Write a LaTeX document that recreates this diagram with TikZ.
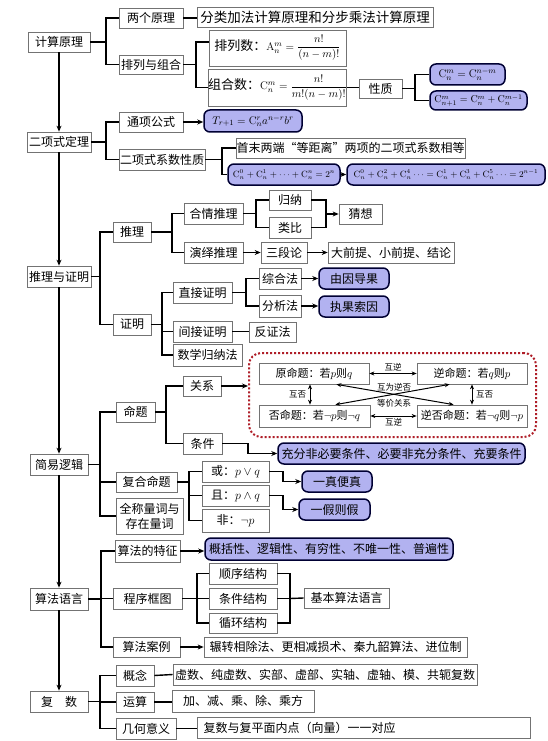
\documentclass[tikz,border=0pt]{standalone}
\usepackage{amsmath}
\usepackage{fontspec}
\newfontfamily\cjk{Noto Sans CJK SC}
\usetikzlibrary{arrows.meta,calc}
\definecolor{bluefill}{RGB}{178,178,240}
\definecolor{redd}{RGB}{175,30,40}
\definecolor{boxline}{RGB}{115,115,115}
\newcommand{\mybox}[7][box]{\node[#1, minimum width={(#5-#3)*1pt}, minimum height={(#6-#4)*1pt}] (#2) at ({(#3+#5)/2},{(#4+#6)/2}) {#7};}
\tikzset{
  box/.style={draw=boxline, line width=0.7pt, fill=white, inner sep=0pt, font=\cjk\fontsize{12}{14}\selectfont, align=center},
  bluebox/.style={box, draw=black!80!blue, line width=1.5pt, fill=bluefill, rounded corners=6pt},
  redbox/.style={draw=redd, line width=2pt, dotted, rounded corners=12pt, inner sep=0pt},
  ln/.style={line width=1.4pt, black},
  arr/.style={ln, -{Stealth[length=6pt,width=5pt]}},
  darr/.style={line width=1pt, {Stealth[length=5pt,width=4pt]}-{Stealth[length=5pt,width=4pt]}},
  lab/.style={font=\cjk\fontsize{8.5}{9}\selectfont, inner sep=0.5pt},
  prop/.style={box, font=\cjk\fontsize{11}{13}\selectfont}
}
\begin{document}
\begin{tikzpicture}[x=1pt,y=-1pt]
\useasboundingbox[fill=white] (0,0) rectangle (548,741);
% main column
\mybox{jsyl}{28}{32}{90}{52}{计算原理}
\mybox{exs}{27}{132}{91}{152}{二项式定理}
\mybox{tlzm}{27}{266}{91}{287}{推理与证明}
\mybox{jylj}{30}{454}{88}{475}{简易逻辑}
\mybox{sfyy}{30}{588}{88}{610}{算法语言}
\mybox{fs}{30}{691}{88}{712}{复\hspace{12pt}数}
\draw[arr] (jsyl.south) -- (exs.north);
\draw[arr] (exs.south) -- (tlzm.north);
\draw[arr] (tlzm.south) -- (jylj.north);
\draw[arr] (jylj.south) -- (sfyy.north);
\draw[arr] (sfyy.south) -- (fs.north);
% section 1
\mybox{lgyl}{119}{8}{183}{28}{两个原理}
\mybox[box,font=\cjk\fontsize{13.5}{16}\selectfont]{flja}{197}{7}{433}{27}{分类加法计算原理和分步乘法计算原理}
\mybox{plzh}{119}{55}{183}{74}{排列与组合}
\mybox[box,font=\cjk\fontsize{13}{15}\selectfont]{pls}{209}{30}{346}{66}{排列数：{\fontsize{11}{13}\selectfont$\mathrm{A}_n^m=\dfrac{n!}{(n-m)!}$}}
\mybox[box,font=\cjk\fontsize{13}{15}\selectfont]{zhs}{209}{69}{346}{106}{组合数：{\fontsize{11}{13}\selectfont$\mathrm{C}_n^m=\dfrac{n!}{m!(n-m)!}$}}
\mybox{xz}{359}{79}{402}{98}{性质}
\mybox[bluebox,font=\fontsize{11}{13}\selectfont]{c1}{430}{64}{505}{85}{$\mathrm{C}_n^m=\mathrm{C}_n^{n-m}$}
\mybox[bluebox,font=\fontsize{10}{12}\selectfont]{c2}{430}{91}{527}{110}{$\mathrm{C}_{n+1}^m=\mathrm{C}_n^m+\mathrm{C}_n^{m-1}$}
\coordinate (s1) at (106,42);
\draw[ln] (jsyl.east) -- (s1);
\draw[ln] (lgyl.west) -| (s1);
\draw[ln] (plzh.west) -| (s1);
\draw[ln] (lgyl.east) -- (lgyl.east -| flja.west);
\coordinate (s2) at (196,64.5);
\draw[ln] (plzh.east) -- (s2);
\draw[ln] ([yshift=6pt]pls.west) -| (s2);
\draw[ln] (zhs.west) -| (s2);
\draw[ln] (zhs.east) -- (zhs.east -| xz.west);
\coordinate (s3) at (415,88.5);
\draw[ln] (xz.east) -- (s3);
\draw[ln] (c1.west) -| (s3);
\draw[ln] (c2.west) -| (s3);
% section 2
\mybox{txgs}{119}{112}{183}{132}{通项公式}
\mybox{xsxz}{119}{149}{205}{170}{二项式系数性质}
\mybox[bluebox,font=\fontsize{11}{13}\selectfont]{tf}{204}{110}{302}{132}{$T_{r+1}=\mathrm{C}_n^r a^{n-r} b^r$}
\mybox{smld}{236}{138}{465}{158}{首末两端“等距离”两项的二项式系数相等}
\mybox[bluebox,font=\fontsize{9}{11}\selectfont]{cs1}{228}{164}{340}{185}{$\mathrm{C}_n^0+\mathrm{C}_n^1+\cdots+\mathrm{C}_n^n=2^n$}
\mybox[bluebox,font=\fontsize{9}{11}\selectfont]{cs2}{347}{164}{545}{185}{$\mathrm{C}_n^0+\mathrm{C}_n^2+\mathrm{C}_n^4\cdots=\mathrm{C}_n^1+\mathrm{C}_n^3+\mathrm{C}_n^5\cdots=2^{n-1}$}
\coordinate (s4) at (106,142);
\draw[ln] (exs.east) -- (s4);
\draw[ln] (txgs.west) -| (s4);
\draw[ln] (xsxz.west) -| (s4);
\draw[arr] (txgs.east) -- (txgs.east -| tf.west);
\coordinate (s5) at (222,159.5);
\draw[ln] (xsxz.east) -- (s5);
\draw[ln] (smld.west) -| (s5);
\draw[ln] (cs1.west) -| (s5);
\draw[arr] (cs1.east) -- (cs2.west);
% section 3
\mybox{tl}{113}{222}{151}{242}{推理}
\mybox{zm}{113}{314}{151}{335}{证明}
\mybox{hqtl}{184}{203}{243}{224}{合情推理}
\mybox{yytl}{184}{242}{243}{263}{演绎推理}
\mybox{gn}{269}{190}{311}{210}{归纳}
\mybox{lb}{269}{217}{311}{238}{类比}
\mybox{cx}{339}{204}{382}{224}{猜想}
\mybox{sdl}{261}{242}{307}{263}{三段论}
\mybox{dqt}{328}{242}{454}{263}{大前提、小前提、结论}
\mybox{zjzm}{173}{282}{232}{303}{直接证明}
\mybox{jjzm}{173}{321}{232}{342}{间接证明}
\mybox{sxgn}{173}{344}{242}{366}{数学归纳法}
\mybox{zhf}{259}{268}{301}{289}{综合法}
\mybox{fxf}{259}{295}{301}{317}{分析法}
\mybox[bluebox]{ygdg}{319}{268}{389}{289}{由因导果}
\mybox[bluebox]{zgsy}{319}{296}{389}{317}{执果索因}
\mybox{fzf}{249}{322}{296}{342}{反证法}
\coordinate (s6) at (100,276.5);
\draw[ln] (tlzm.east) -- (s6);
\draw[ln] (tl.west) -| (s6);
\draw[ln] (zm.west) -| (s6);
\coordinate (s7) at (172,232);
\draw[ln] (tl.east) -- (s7);
\draw[ln] (hqtl.west) -| (s7);
\draw[ln] (yytl.west) -| (s7);
\coordinate (s8) at (256,213.5);
\draw[ln] (hqtl.east) -- (s8);
\draw[ln] (gn.west) -| (s8);
\draw[ln] (lb.west) -| (s8);
\coordinate (s9) at (326,214);
\draw[ln] (gn.east) -| (s9);
\draw[ln] (lb.east) -| (s9);
\draw[arr] (s9) -- (cx.west);
\draw[arr] (yytl.east) -- (sdl.west);
\draw[arr] (sdl.east) -- (dqt.west);
\coordinate (s10) at (162,324.5);
\draw[ln] (zm.east) -- (s10);
\draw[ln] (zjzm.west) -| (s10);
\draw[ln] (jjzm.west) -| (s10);
\draw[ln] (sxgn.west) -| (s10);
\coordinate (s11) at (246,292.5);
\draw[ln] (zjzm.east) -- (s11);
\draw[ln] (zhf.west) -| (s11);
\draw[ln] (fxf.west) -| (s11);
\draw[arr] (zhf.east) -- (ygdg.west);
\draw[arr] (fxf.east) -- (fxf.east -| zgsy.west);
\draw[ln] (jjzm.east) -- (jjzm.east -| fzf.west);
% section 4
\mybox[redbox]{rb}{249}{353}{536}{437}{}
\mybox{mt}{116}{402}{155}{422}{命题}
\mybox{fhmt}{116}{472}{177}{492}{复合命题}
\mybox[box,font=\cjk\fontsize{12}{15}\selectfont]{qc}{116}{498}{183}{534}{全称量词与\\存在量词}
\mybox{gx}{183}{376}{221}{396}{关系}
\mybox{tj}{183}{433}{222}{454}{条件}
\mybox[prop]{ymt}{259}{363}{369}{384}{原命题：若$p$则$q$}
\mybox[prop]{nmt}{417}{363}{527}{384}{逆命题：若$q$则$p$}
\mybox[prop]{fmt}{259}{405}{370}{427}{否命题：若$\neg p$则$\neg q$}
\mybox[prop]{nfmt}{417}{405}{527}{427}{逆否命题：若$\neg q$则$\neg p$}
\mybox[bluebox]{cfbb}{278}{443}{525}{464}{充分非必要条件、必要非充分条件、充要条件}
\mybox{huo}{202}{461}{269}{482}{或：$p\vee q$}
\mybox{qie}{202}{485}{269}{506}{且：$p\wedge q$}
\mybox{fei}{202}{509}{269}{532}{非：$\neg p$}
\mybox[bluebox]{yzbz}{302}{471}{372}{492}{一真便真}
\mybox[bluebox]{yjzj}{299}{499}{370}{520}{一假则假}
\draw[darr] (ymt.east) -- (nmt.west) node[lab, midway, above=1.5pt] {互逆};
\draw[darr] (fmt.east) -- (fmt.east -| nfmt.west) node[lab, midway, below=1.5pt] {互逆};
\draw[darr] ([xshift=-4pt]ymt.south) -- ([xshift=-4pt]ymt.south |- fmt.north) node[lab, midway, left=3pt] {互否};
\draw[darr] (nmt.south) -- (nfmt.north) node[lab, midway, right=3pt] {互否};
\draw[darr] ([xshift=-33pt]ymt.south east) -- ([xshift=37pt]nfmt.north west);
\draw[darr] ([xshift=33pt]nmt.south west) -- ([xshift=-35pt]fmt.north east);
\node[lab, fill=white, inner sep=0.3pt] (lbl1) at (394,387) {互为逆否};
\node[lab, fill=white, inner sep=0.3pt] (lbl2) at (394,403) {等价关系};
\coordinate (s12) at (100,464.5);
\draw[ln] (jylj.east) -- (s12);
\draw[ln] (mt.west) -| (s12);
\draw[ln] (fhmt.west) -| (s12);
\draw[ln] (qc.west) -| (s12);
\coordinate (s13) at (166,412);
\draw[ln] (mt.east) -- (s13);
\draw[ln] (gx.west) -| (s13);
\draw[ln] (tj.west) -| (s13);
\draw[arr] (gx.east) -- (gx.east -| rb.west);
\coordinate (k1) at (248,443.5);
\draw[arr] (tj.east) -- (k1) |- (cfbb.west);
\coordinate (s14) at (189,482);
\draw[ln] (fhmt.east) -- (s14);
\draw[ln] (huo.west) -| (s14);
\draw[ln] (qie.west) -| (s14);
\draw[ln] (fei.west) -| (s14);
\coordinate (k2) at (283,471.5);
\draw[arr] (huo.east) -- (k2) |- (yzbz.west);
\coordinate (k3) at (283,495.5);
\draw[arr] (qie.east) -- (k3) |- (yjzj.west);
% section 5
\mybox{sftz}{115}{540}{180}{562}{算法的特征}
\mybox{cxkt}{113}{588}{182}{609}{程序框图}
\mybox{sfal}{113}{637}{180}{657}{算法案例}
\mybox[bluebox]{gkx}{205}{538}{453}{560}{概括性、逻辑性、有穷性、不唯一性、普遍性}
\mybox{sxjg}{209}{563}{277}{584}{顺序结构}
\mybox{tjjg}{209}{588}{277}{609}{条件结构}
\mybox{xhjg}{209}{613}{277}{633}{循环结构}
\mybox{jbsf}{304}{588}{389}{608}{基本算法语言}
\mybox{zzxc}{204}{637}{467}{657}{辗转相除法、更相减损术、秦九韶算法、进位制}
\coordinate (s15) at (101,599);
\draw[ln] (sfyy.east) -- (s15);
\draw[ln] (sftz.west) -| (s15);
\draw[ln] (cxkt.west) -| (s15);
\draw[ln] (sfal.west) -| (s15);
\draw[arr] (sftz.east) -- (sftz.east -| gkx.west);
\coordinate (s16) at (197,598.5);
\draw[ln] (cxkt.east) -- (s16);
\draw[ln] (sxjg.west) -| (s16);
\draw[ln] (tjjg.west) -| (s16);
\draw[ln] (xhjg.west) -| (s16);
\coordinate (s17) at (290,598.5);
\draw[ln] (sxjg.east) -| (s17);
\draw[ln] (xhjg.east) -| (s17);
\draw[ln] (tjjg.east) -- (s17);
\draw[ln] (s17) -- (jbsf.west);
\draw[arr] (sfal.east) -- (zzxc.west);
% section 6
\mybox{gn2}{116}{665}{154}{686}{概念}
\mybox{ys}{116}{692}{154}{712}{运算}
\mybox{jhyy}{116}{718}{176}{739}{几何意义}
\mybox{xs}{173}{664}{477}{685}{虚数、纯虚数、实部、虚部、实轴、虚轴、模、共轭复数}
\mybox{jj}{172}{690}{314}{712}{加、减、乘、除、乘方}
\mybox[box,text width=320pt,align=left]{fspm}{197}{717}{530}{738}{复数与复平面内点（向量）一一对应}
\coordinate (s18) at (100,701.5);
\draw[ln] (fs.east) -- (s18);
\draw[ln] (gn2.west) -| (s18);
\draw[ln] (ys.west) -| (s18);
\draw[ln] (jhyy.west) -| (s18);
\draw[ln] (gn2.east) -- (xs.west);
\draw[ln] (ys.east) -- (ys.east -| jj.west);
\draw[ln] (jhyy.east) -- (jhyy.east -| fspm.west);
\end{tikzpicture}
\end{document}
